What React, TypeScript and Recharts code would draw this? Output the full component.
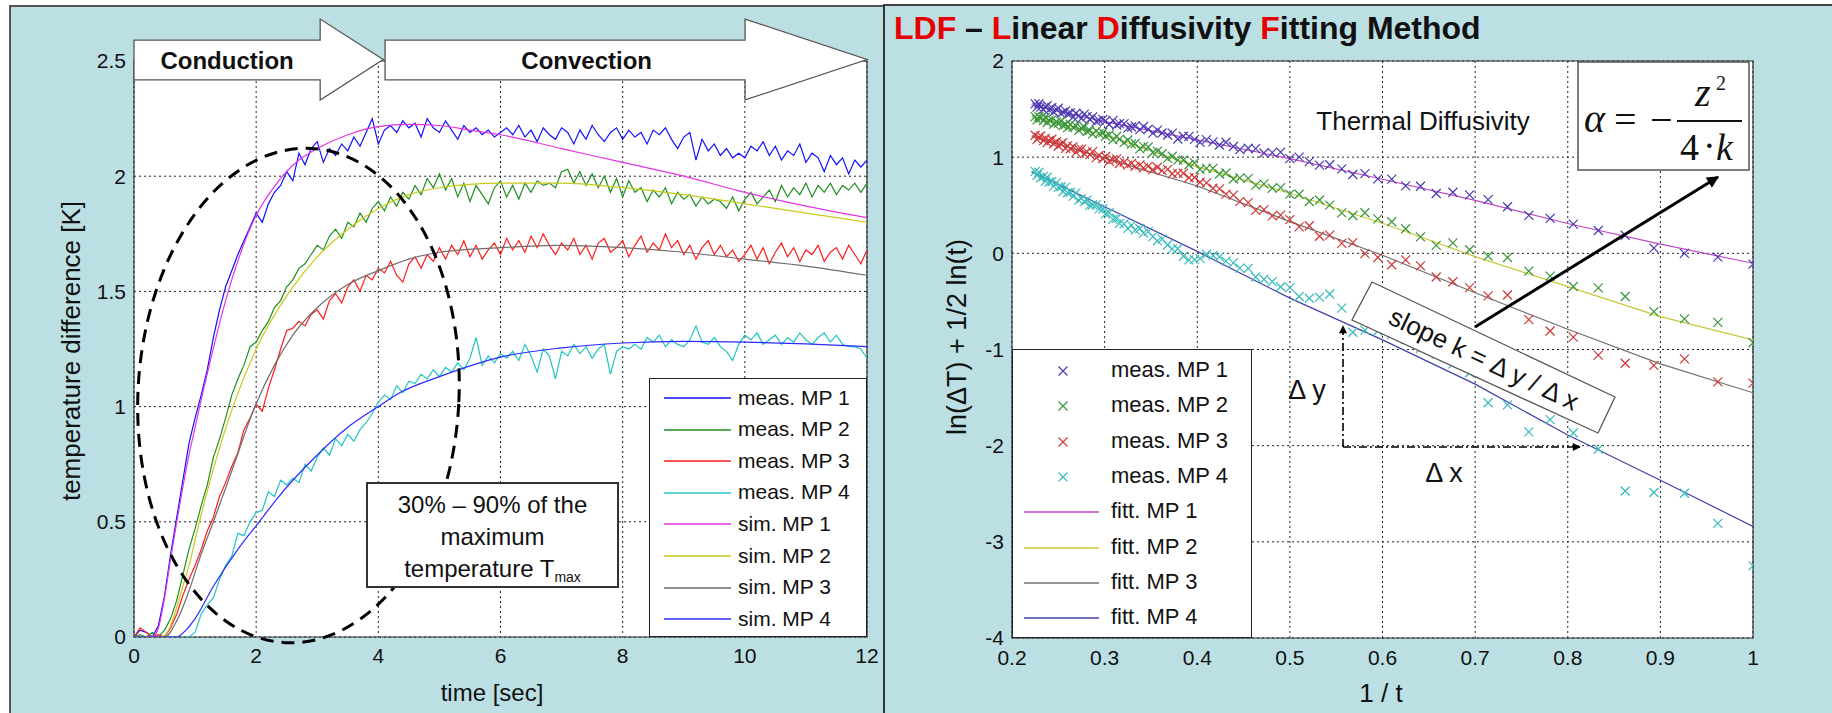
import React from 'react';
import {
  LineChart, ComposedChart, Line, Scatter, XAxis, YAxis, CartesianGrid, ReferenceArea, Legend,
} from 'recharts';

const TEAL = '#bbdfe3';
const FONT = '"Liberation Sans", Arial, Helvetica, sans-serif';
const SERIF = '"Liberation Serif", "Times New Roman", serif';

// ---------------- Left chart: temperature difference vs time ----------------
const X_TICKS_L = [0, 2, 4, 6, 8, 10, 12];
const Y_TICKS_L = [0, 0.5, 1, 1.5, 2, 2.5];

const TIME = [0,0.1,0.2,0.3,0.4,0.5,0.6,0.7,0.8,0.9,1,1.1,1.2,1.3,1.4,1.5,1.6,1.7,1.8,1.9,2,2.1,2.2,2.3,2.4,2.5,2.6,2.7,2.8,2.9,3,3.1,3.2,3.3,3.4,3.5,3.6,3.7,3.8,3.9,4,4.1,4.2,4.3,4.4,4.5,4.6,4.7,4.8,4.9,5,5.1,5.2,5.3,5.4,5.5,5.6,5.7,5.8,5.9,6,6.1,6.2,6.3,6.4,6.5,6.6,6.7,6.8,6.9,7,7.1,7.2,7.3,7.4,7.5,7.6,7.7,7.8,7.9,8,8.1,8.2,8.3,8.4,8.5,8.6,8.7,8.8,8.9,9,9.1,9.2,9.3,9.4,9.5,9.6,9.7,9.8,9.9,10,10.1,10.2,10.3,10.4,10.5,10.6,10.7,10.8,10.9,11,11.1,11.2,11.3,11.4,11.5,11.6,11.7,11.8,11.9,12];

const MEAS_MP1 = [0.00,0.03,0.02,0.00,0.05,0.18,0.36,0.52,0.68,0.84,
0.95,1.05,1.16,1.30,1.42,1.52,1.59,1.66,1.72,1.78,
1.84,1.80,1.88,1.93,1.96,2.02,1.98,2.10,2.05,2.12,
2.15,2.06,2.12,2.09,2.14,2.11,2.17,2.13,2.19,2.25,
2.14,2.20,2.22,2.19,2.24,2.21,2.23,2.17,2.25,2.21,
2.19,2.24,2.20,2.16,2.22,2.19,2.21,2.18,2.20,2.17,
2.19,2.21,2.18,2.22,2.17,2.20,2.15,2.21,2.18,2.16,
2.21,2.19,2.14,2.20,2.16,2.22,2.18,2.15,2.19,2.21,
2.16,2.20,2.17,2.19,2.14,2.20,2.18,2.21,2.16,2.12,
2.17,2.19,2.07,2.16,2.11,2.14,2.09,2.12,2.08,2.10,
2.08,2.13,2.11,2.15,2.09,2.13,2.07,2.11,2.09,2.14,
2.06,2.10,2.08,2.02,2.09,2.05,2.08,2.01,2.07,2.04,
2.07];

const MEAS_MP2 = [0.00,0.01,0.00,0.02,0.00,0.03,0.08,0.16,0.27,0.38,
0.47,0.57,0.66,0.78,0.86,0.95,1.05,1.12,1.18,1.26,
1.28,1.33,1.37,1.43,1.46,1.52,1.55,1.60,1.62,1.66,
1.70,1.68,1.74,1.77,1.73,1.80,1.78,1.84,1.80,1.86,
1.89,1.85,1.91,1.87,1.93,1.90,1.96,1.92,1.99,1.95,
2.01,1.94,1.99,1.91,1.97,1.89,1.96,1.92,1.88,1.95,
1.98,1.91,1.96,1.90,1.97,1.93,1.98,1.96,1.97,1.95,
2.02,2.03,1.97,2.02,1.96,2.01,1.95,2.00,1.93,1.99,
1.91,1.98,1.93,1.95,1.89,1.94,1.91,1.95,1.88,1.93,
1.90,1.92,1.87,1.91,1.88,1.90,1.89,1.86,1.91,1.85,
1.90,1.93,1.88,1.91,1.94,1.89,1.96,1.91,1.95,1.92,
1.97,1.91,1.96,1.93,1.97,1.92,1.96,1.94,1.97,1.93,
1.97];

const MEAS_MP3 = [0.00,0.04,0.02,0.00,0.01,0.00,0.04,0.10,0.18,0.25,
0.31,0.38,0.46,0.52,0.61,0.67,0.74,0.80,0.90,0.95,
1.01,0.98,1.08,1.16,1.25,1.33,1.34,1.37,1.35,1.40,
1.42,1.38,1.46,1.49,1.45,1.52,1.55,1.50,1.57,1.55,
1.60,1.58,1.63,1.57,1.54,1.62,1.65,1.60,1.66,1.63,
1.69,1.64,1.70,1.66,1.72,1.65,1.70,1.64,1.68,1.71,
1.66,1.73,1.68,1.72,1.67,1.74,1.69,1.75,1.70,1.66,
1.71,1.68,1.73,1.66,1.70,1.64,1.71,1.73,1.67,1.69,
1.72,1.65,1.70,1.74,1.67,1.71,1.68,1.75,1.69,1.72,
1.66,1.70,1.64,1.69,1.72,1.66,1.70,1.65,1.68,1.63,
1.66,1.70,1.64,1.69,1.62,1.67,1.71,1.65,1.69,1.63,
1.68,1.66,1.70,1.63,1.67,1.69,1.64,1.70,1.66,1.62,
1.68];

const MEAS_MP4 = [0,0,0,0,0,0,0,0,0,0,
0.02,0.10,0.14,0.17,0.25,0.31,0.35,0.45,0.44,0.50,
0.54,0.55,0.63,0.61,0.68,0.66,0.69,0.67,0.75,0.72,
0.78,0.82,0.79,0.86,0.83,0.88,0.85,0.90,0.93,0.97,
1.02,1.05,1.03,1.09,1.06,1.11,1.10,1.14,1.12,1.16,
1.13,1.17,1.15,1.19,1.16,1.21,1.30,1.18,1.22,1.19,
1.23,1.21,1.24,1.20,1.27,1.22,1.15,1.25,1.22,1.12,
1.24,1.22,1.27,1.23,1.26,1.21,1.25,1.27,1.14,1.24,
1.26,1.25,1.27,1.25,1.30,1.28,1.31,1.26,1.29,1.27,
1.26,1.29,1.35,1.28,1.27,1.30,1.26,1.24,1.20,1.27,
1.31,1.29,1.32,1.27,1.29,1.31,1.27,1.30,1.28,1.32,
1.29,1.27,1.30,1.32,1.28,1.31,1.27,1.26,1.26,1.25,
1.21];

const SIM_MP1_T = [0,0.3,0.4,0.5,0.6,0.7,0.8,0.9,1.0,1.1,1.25,1.5,1.75,2.0,2.34,2.7,3.0,3.5,4.0,4.5,5.0,5.5,6.0,7.0,8.0,9.0,10.0,11.0,12.0];
const SIM_MP1_V = [0,0,0.04,0.17,0.34,0.5,0.65,0.79,0.91,1.03,1.2,1.46,1.67,1.83,1.97,2.07,2.12,2.18,2.215,2.225,2.22,2.2,2.18,2.12,2.06,2.0,1.93,1.87,1.82];
const SIM_MP2_T = [0,0.45,0.6,0.7,0.8,0.9,1.07,1.3,1.62,2.0,2.55,3.0,3.5,4.0,4.5,5.0,6.0,7.0,8.0,9.0,10.0,11.0,12.0];
const SIM_MP2_V = [0,0,0.05,0.13,0.22,0.31,0.5,0.73,1.0,1.25,1.5,1.65,1.77,1.86,1.92,1.95,1.97,1.97,1.95,1.92,1.88,1.84,1.80];
const SIM_MP3_T = [0,0.5,0.7,0.9,1.1,1.3,1.6,1.98,2.3,2.6,3.0,3.5,4.0,4.5,5.0,6.0,7.0,8.0,9.0,10.0,11.0,12.0];
const SIM_MP3_V = [0,0,0.07,0.2,0.36,0.5,0.72,1.0,1.18,1.31,1.43,1.53,1.59,1.64,1.67,1.69,1.70,1.69,1.67,1.64,1.61,1.57];
const SIM_MP4_T = [0,0.7,0.85,1.0,1.3,1.7,2.05,2.34,3.0,3.5,4.0,4.35,5.0,6.0,7.0,8.0,9.0,10.0,11.0,12.0];
const SIM_MP4_V = [0,0,0.03,0.08,0.22,0.38,0.5,0.6,0.79,0.91,1.0,1.06,1.13,1.215,1.255,1.276,1.283,1.28,1.272,1.26];

const LEFT_SERIES = [
  { name: 'meas. MP 1', color: '#1010ff', t: TIME, v: MEAS_MP1, smooth: false },
  { name: 'meas. MP 2', color: '#1f8f1f', t: TIME, v: MEAS_MP2, smooth: false },
  { name: 'meas. MP 3', color: '#ff1c1c', t: TIME, v: MEAS_MP3, smooth: false },
  { name: 'meas. MP 4', color: '#22c4c4', t: TIME, v: MEAS_MP4, smooth: false },
  { name: 'sim. MP 1', color: '#e533e5', t: SIM_MP1_T, v: SIM_MP1_V, smooth: true },
  { name: 'sim. MP 2', color: '#c9c91a', t: SIM_MP2_T, v: SIM_MP2_V, smooth: true },
  { name: 'sim. MP 3', color: '#6e6e6e', t: SIM_MP3_T, v: SIM_MP3_V, smooth: true },
  { name: 'sim. MP 4', color: '#2a2aff', t: SIM_MP4_T, v: SIM_MP4_V, smooth: true },
];

// ---------------- Right chart: LDF fitting ----------------
const X_TICKS_R = [0.2, 0.3, 0.4, 0.5, 0.6, 0.7, 0.8, 0.9, 1];
const Y_TICKS_R = [-4, -3, -2, -1, 0, 1, 2];

const INV_T = [0.225,0.227,0.229,0.231,0.234,0.236,0.238,0.240,0.243,0.245,0.248,0.250,0.253,0.255,0.258,0.260,0.263,0.266,0.269,0.272,0.275,0.278,0.281,0.284,0.287,0.291,0.294,0.298,0.301,0.305,0.309,0.313,0.316,0.321,0.325,0.329,0.333,0.338,0.342,0.347,0.352,0.357,0.362,0.368,0.373,0.379,0.385,0.391,0.397,0.403,0.410,0.417,0.424,0.431,0.439,0.446,0.455,0.463,0.472,0.481,0.490,0.500,0.510,0.521,0.532,0.543,0.556,0.568,0.581,0.595,0.610,0.625,0.641,0.658,0.676,0.694,0.714,0.735,0.758,0.781,0.806,0.833,0.862,0.893,0.926,0.962,1.000];

const LN_MP1 = [1.554,1.520,1.555,1.521,1.494,1.520,1.536,1.491,1.515,1.470,
1.494,1.509,1.453,1.468,1.481,1.447,1.460,1.414,1.457,1.431,
1.404,1.447,1.421,1.394,1.418,1.369,1.382,1.393,1.377,1.340,
1.382,1.334,1.349,1.349,1.302,1.314,1.326,1.287,1.319,1.290,
1.250,1.281,1.251,1.230,1.250,1.189,1.218,1.216,1.185,1.154,
1.182,1.159,1.127,1.155,1.111,1.079,1.093,1.089,1.043,1.048,
1.052,0.985,1.001,0.954,0.918,0.921,0.879,0.820,0.829,0.775,
0.772,0.701,0.698,0.622,0.635,0.608,0.559,0.484,0.394,0.364,
0.303,0.237,0.188,0.054,0.000,-0.040,-0.113];

const LN_MP2 = [1.421,1.387,1.422,1.407,1.380,1.415,1.360,1.385,1.388,1.343,
1.366,1.351,1.374,1.329,1.342,1.307,1.340,1.313,1.326,1.278,
1.301,1.314,1.267,1.279,1.242,1.273,1.245,1.256,1.218,1.235,
1.181,1.218,1.188,1.152,1.178,1.135,1.142,1.086,1.112,1.106,
1.049,1.063,1.036,0.987,1.010,0.970,0.971,0.921,0.941,0.873,
0.883,0.884,0.825,0.835,0.773,0.784,0.779,0.707,0.722,0.677,
0.683,0.615,0.614,0.539,0.555,0.501,0.420,0.393,0.422,0.359,
0.328,0.256,0.171,0.082,0.109,0.037,-0.028,-0.043,-0.185,-0.237,
-0.345,-0.359,-0.449,-0.606,-0.681,-0.718,-0.930];

const LN_MP3 = [1.228,1.183,1.207,1.221,1.172,1.196,1.151,1.175,1.186,1.140,
1.161,1.116,1.137,1.151,1.092,1.117,1.088,1.109,1.050,1.082,
1.083,1.034,1.055,1.027,1.058,0.996,1.018,0.986,1.007,0.956,
0.974,0.982,0.934,0.949,0.918,0.936,0.904,0.920,0.888,0.904,
0.869,0.895,0.860,0.873,0.828,0.831,0.833,0.786,0.789,0.739,
0.733,0.677,0.671,0.615,0.606,0.540,0.527,0.447,0.454,0.390,
0.397,0.350,0.275,0.287,0.178,0.190,0.104,0.112,-0.003,-0.043,
-0.119,-0.068,-0.130,-0.246,-0.296,-0.357,-0.443,-0.433,-0.690,-0.808,
-0.872,-1.059,-1.143,-1.165,-1.098,-1.336,-1.350];

const LN_MP4 = [0.852,0.812,0.843,0.784,0.800,0.751,0.791,0.742,0.748,0.699,
0.735,0.686,0.692,0.643,0.689,0.630,0.636,0.592,0.628,0.554,
0.571,0.537,0.553,0.499,0.505,0.507,0.463,0.464,0.410,0.422,
0.353,0.365,0.311,0.307,0.259,0.290,0.242,0.258,0.210,0.226,
0.173,0.130,0.147,0.089,0.046,0.048,-0.030,-0.068,-0.066,-0.055,
-0.009,-0.023,-0.037,-0.081,-0.100,-0.154,-0.157,-0.246,-0.270,-0.294,
-0.347,-0.356,-0.449,-0.467,-0.455,-0.423,-0.569,-0.821,-0.798,-0.808,
-0.846,-0.895,-0.989,-1.047,-1.150,-1.242,-1.554,-1.576,-1.857,-1.729,
-1.868,-2.035,-2.471,-2.487,-2.495,-2.808,-3.250];

const FIT_X = [0.221, 0.3, 0.4, 0.5, 0.6, 0.7, 0.8, 0.9, 1.0];
const FIT_MP1 = [1.543, 1.37, 1.18, 0.985, 0.77, 0.55, 0.31, 0.095, -0.103];
const FIT_MP2 = [1.421, 1.231, 0.901, 0.625, 0.313, -0.034, -0.346, -0.658, -0.90];
const FIT_MP3 = [1.22, 0.99, 0.70, 0.33, -0.02, -0.41, -0.79, -1.15, -1.45];
const FIT_MP4 = [0.85, 0.485, 0.02, -0.466, -0.90, -1.36, -1.89, -2.36, -2.84];

const MEAS_R = [
  { name: 'meas. MP 1', color: '#4a3cb4', v: LN_MP1 },
  { name: 'meas. MP 2', color: '#3a963a', v: LN_MP2 },
  { name: 'meas. MP 3', color: '#d03838', v: LN_MP3 },
  { name: 'meas. MP 4', color: '#38bcbc', v: LN_MP4 },
];
const FIT_R = [
  { name: 'fitt. MP 1', color: '#c448c4', v: FIT_MP1 },
  { name: 'fitt. MP 2', color: '#c8c83a', v: FIT_MP2 },
  { name: 'fitt. MP 3', color: '#707070', v: FIT_MP3 },
  { name: 'fitt. MP 4', color: '#4040a8', v: FIT_MP4 },
];

// ---------------- helpers ----------------
const xMark = (color: string) => (props: any) => {
  const { cx, cy } = props;
  if (cx == null || cy == null) return <g />;
  const r = 4.5;
  return (
    <path d={`M${cx - r},${cy - r}L${cx + r},${cy + r}M${cx - r},${cy + r}L${cx + r},${cy - r}`}
      stroke={color} strokeWidth={1.2} fill="none" />
  );
};

const blockArrow = (label: string, labelFrac: number) => (props: any) => {
  const { x, y, width, height } = props;
  if (x == null) return <g />;
  const hs = x + width * 0.747;
  const st = y + height * 0.26;
  const sb = y + height * 0.753;
  const mid = y + height / 2;
  const pts = `${x},${st} ${hs},${st} ${hs},${y} ${x + width},${mid} ${hs},${y + height} ${hs},${sb} ${x},${sb}`;
  return (
    <g>
      <polygon points={pts} fill="#fff" stroke="#555" strokeWidth={1.3} />
      <text x={x + (hs - x) * labelFrac} y={mid + 1} textAnchor="middle" dominantBaseline="central"
        fontFamily={FONT} fontWeight="bold" fontSize={24} fill="#111">{label}</text>
    </g>
  );
};

const ellipseShape = (props: any) => {
  const { x, y, width, height } = props;
  if (x == null) return <g />;
  const cx = x + width / 2;
  const cy = y + height / 2;
  return (
    <ellipse cx={cx} cy={cy} rx={width / 2} ry={height / 2} transform={`rotate(3 ${cx} ${cy})`}
      fill="none" stroke="#000" strokeWidth={3} strokeDasharray="13 8" />
  );
};

type LegendItem = { name: string; color: string; kind: 'line' | 'x' };

const LegendBox = ({ items, w, h, top0, gap, lx1, lx2, mx, tx, fs }: any) => (
  <div style={{ position: 'relative', width: w, height: h, boxSizing: 'border-box', background: '#fff',
    border: '1px solid #222', fontFamily: FONT }}>
    {items.map((it: LegendItem, i: number) => {
      const cy = top0 + i * gap;
      return (
        <div key={it.name}>
          <svg style={{ position: 'absolute', left: 0, top: cy - 10 }} width={tx} height={20}>
            {it.kind === 'line'
              ? <line x1={lx1} x2={lx2} y1={10} y2={10} stroke={it.color} strokeWidth={1.5} />
              : <path d={`M${mx - 4.5},5.5L${mx + 4.5},14.5M${mx - 4.5},14.5L${mx + 4.5},5.5`} stroke={it.color} strokeWidth={1.2} fill="none" />}
          </svg>
          <span style={{ position: 'absolute', left: tx, top: cy - fs / 2 - 1, height: fs, fontSize: fs,
            lineHeight: `${fs}px`, color: '#111', whiteSpace: 'nowrap' }}>{it.name}</span>
        </div>
      );
    })}
  </div>
);

const LEFT_LEGEND: LegendItem[] = LEFT_SERIES.map((s) => ({ name: s.name, color: s.color, kind: 'line' }));
const RIGHT_LEGEND: LegendItem[] = [
  ...MEAS_R.map((s) => ({ name: s.name, color: s.color, kind: 'x' as const })),
  ...FIT_R.map((s) => ({ name: s.name, color: s.color, kind: 'line' as const })),
];

const tickStyle = { fill: '#111', fontSize: 21, fontFamily: FONT };

export default function App() {
  return (
    <div style={{ position: 'fixed', left: 0, top: 0, width: 1832, height: 713, background: '#fff', overflow: 'hidden', fontFamily: FONT }}>
      <div style={{ position: 'absolute', left: 9, top: 5, width: 874, height: 708, background: TEAL,
        borderLeft: '2px solid #555', borderTop: '2px solid #555', boxSizing: 'border-box' }} />
      <div style={{ position: 'absolute', left: 883, top: 4, width: 949, height: 709, background: TEAL,
        borderLeft: '2px solid #333', borderTop: '2px solid #444', boxSizing: 'border-box' }} />

      {/* Left chart */}
      <div style={{ position: 'absolute', left: 0, top: 0 }}>
        <LineChart width={883} height={713} margin={{ top: 61, right: 16, bottom: 36, left: 74 }}>
          <CartesianGrid fill="#fff" stroke="#222" strokeDasharray="2 3" strokeWidth={1} />
          <XAxis dataKey="t" type="number" domain={[0, 12]} ticks={X_TICKS_L} height={40} tickMargin={5}
            axisLine={false} tickLine={false} tick={tickStyle} allowDataOverflow />
          <YAxis type="number" domain={[0, 2.5]} ticks={Y_TICKS_L} width={60}
            axisLine={false} tickLine={false} tick={tickStyle} allowDataOverflow />
          <ReferenceArea x1={0} x2={12} y1={0} y2={2.5} fill="none" fillOpacity={0} stroke="#333" strokeWidth={1.2} ifOverflow="visible" />
          {LEFT_SERIES.map((s) => (
            <Line key={s.name} name={s.name} data={s.t.map((t, i) => ({ t, v: s.v[i] }))} dataKey="v"
              type={s.smooth ? 'monotone' : 'linear'} stroke={s.color} strokeWidth={1.2}
              dot={false} activeDot={false} isAnimationActive={false} />
          ))}
          <ReferenceArea x1={0.065} x2={5.32} y1={-0.026} y2={2.122} ifOverflow="visible" shape={ellipseShape} zIndex={2500} />
          <ReferenceArea x1={0} x2={4.08} y1={2.331} y2={2.682} ifOverflow="visible" shape={blockArrow('Conduction', 0.5)} zIndex={2600} />
          <ReferenceArea x1={4.11} x2={12} y1={2.331} y2={2.682} ifOverflow="visible" shape={blockArrow('Convection', 0.56)} zIndex={2600} />
          <Legend layout="vertical" align="center" verticalAlign="middle"
            wrapperStyle={{ left: 649, top: 378, width: 218, height: 259 }}
            content={() => <LegendBox items={LEFT_LEGEND} w={218} h={259} top0={19} gap={31.6} lx1={14} lx2={81} mx={47} tx={88} fs={21} />} />
        </LineChart>
      </div>

      {/* Right chart */}
      <div style={{ position: 'absolute', left: 883, top: 0 }}>
        <ComposedChart width={949} height={713} margin={{ top: 61, right: 79, bottom: 35, left: 69 }}>
          <CartesianGrid fill="#fff" stroke="#222" strokeDasharray="2 3" strokeWidth={1} />
          <XAxis dataKey="x" type="number" domain={[0.2, 1]} ticks={X_TICKS_R} height={40} tickMargin={6}
            axisLine={false} tickLine={false} tick={tickStyle} allowDataOverflow />
          <YAxis dataKey="y" type="number" domain={[-4, 2]} ticks={Y_TICKS_R} width={60}
            axisLine={false} tickLine={false} tick={tickStyle} allowDataOverflow />
          <ReferenceArea x1={0.2} x2={1} y1={-4} y2={2} fill="none" fillOpacity={0} stroke="#333" strokeWidth={1.2} ifOverflow="visible" />
          {MEAS_R.map((s) => (
            <Scatter key={s.name} name={s.name} data={INV_T.map((x, i) => ({ x, y: s.v[i] }))}
              shape={xMark(s.color)} isAnimationActive={false} />
          ))}
          {FIT_R.map((s) => (
            <Line key={s.name} name={s.name} data={FIT_X.map((x, i) => ({ x, y: s.v[i] }))} dataKey="y"
              type="linear" stroke={s.color} strokeWidth={1.2} dot={false} activeDot={false} isAnimationActive={false} />
          ))}
          <Legend layout="vertical" align="center" verticalAlign="middle"
            wrapperStyle={{ left: 129, top: 349, width: 240, height: 289 }}
            content={() => <LegendBox items={RIGHT_LEGEND} w={240} h={289} top0={21} gap={35.3} lx1={11} lx2={86} mx={50} tx={98} fs={22} />} />
        </ComposedChart>
      </div>

      {/* Left annotation box */}
      <div style={{ position: 'absolute', left: 366, top: 482, width: 253, height: 106, boxSizing: 'border-box',
        border: '2px solid #333', background: '#fff', textAlign: 'center', fontSize: 24, lineHeight: '32px',
        paddingTop: 5, color: '#111', fontFamily: FONT }}>
        <div>30% – 90% of the</div>
        <div>maximum</div>
        <div>temperature T<sub style={{ fontSize: 14, verticalAlign: -5 }}>max</sub></div>
      </div>

      {/* Overlay texts and annotations */}
      <svg width={1832} height={713} style={{ position: 'absolute', left: 0, top: 0, pointerEvents: 'none' }}>
        <defs>
          <marker id="ahBig" viewBox="0 0 10 10" refX={9} refY={5} markerUnits="userSpaceOnUse" markerWidth={16} markerHeight={12} orient="auto">
            <path d="M0,0 L10,5 L0,10 z" fill="#000" />
          </marker>
          <marker id="ahSmall" viewBox="0 0 10 10" refX={9} refY={5} markerUnits="userSpaceOnUse" markerWidth={11} markerHeight={8} orient="auto">
            <path d="M0,0 L10,5 L0,10 z" fill="#000" />
          </marker>
        </defs>
        {/* left panel labels */}
        <text x={71} y={351} transform="rotate(-90 71 351)" textAnchor="middle" dominantBaseline="central"
          fontFamily={FONT} fontSize={26} fill="#111">temperature difference [K]</text>
        <text x={492} y={692} textAnchor="middle" dominantBaseline="central" fontFamily={FONT} fontSize={24} fill="#111">time [sec]</text>

        {/* right panel title */}
        <text x={894} y={39} fontFamily={FONT} fontWeight="bold" fontSize={32} fill="#111">
          <tspan fill="#e60000">LDF</tspan> – <tspan fill="#e60000">L</tspan>inear <tspan fill="#e60000">D</tspan>iffusivity <tspan fill="#e60000">F</tspan>itting Method
        </text>
        <text x={957} y={337} transform="rotate(-90 957 337)" textAnchor="middle" dominantBaseline="central"
          fontFamily={FONT} fontSize={27} fill="#111">ln(ΔT) + 1/2 ln(t)</text>
        <text x={1381} y={693} textAnchor="middle" dominantBaseline="central" fontFamily={FONT} fontSize={26} fill="#111">1 / t</text>
        <text x={1423} y={130} textAnchor="middle" fontFamily={FONT} fontSize={26} fill="#111">Thermal Diffusivity</text>

        {/* formula box */}
        <rect x={1578} y={62} width={171} height={108} fill="#fff" stroke="#555" strokeWidth={1.5} />
        <text x={1584} y={132} fontFamily={SERIF} fontStyle="italic" fontSize={40} fill="#111">α</text>
        <text x={1614} y={133} fontFamily={SERIF} fontSize={40} fill="#111">=</text>
        <text x={1650} y={133} fontFamily={SERIF} fontSize={40} fill="#111">−</text>
        <line x1={1677} x2={1742} y1={121} y2={121} stroke="#111" strokeWidth={2} />
        <text x={1695} y={106} fontFamily={SERIF} fontStyle="italic" fontSize={40} fill="#111">z</text>
        <text x={1716} y={90} fontFamily={SERIF} fontSize={20} fill="#111">2</text>
        <text x={1680} y={160} fontFamily={SERIF} fontSize={38} fill="#111">4</text>
        <text x={1703} y={158} fontFamily={SERIF} fontSize={38} fill="#111">·</text>
        <text x={1716} y={160} fontFamily={SERIF} fontStyle="italic" fontSize={38} fill="#111">k</text>

        {/* arrow to formula */}
        <line x1={1475} y1={327} x2={1718} y2={177} stroke="#000" strokeWidth={3} markerEnd="url(#ahBig)" />

        {/* slope box */}
        <polygon points="1372,282 1615,397 1598,433 1352,320" fill="#fff" stroke="#555" strokeWidth={1.3} />
        <text x={1484} y={359} transform="rotate(25.3 1484 359)" textAnchor="middle" dominantBaseline="central"
          fontFamily={FONT} fontSize={26} fill="#111">slope k = Δ y / Δ x</text>

        {/* delta arrows */}
        <line x1={1343} y1={447} x2={1343} y2={326} stroke="#000" strokeWidth={1.6} strokeDasharray="8 3 2 3" markerEnd="url(#ahSmall)" />
        <line x1={1343} y1={447} x2={1580} y2={447} stroke="#000" strokeWidth={1.6} strokeDasharray="8 3 2 3" markerEnd="url(#ahSmall)" />
        <text x={1307} y={390} textAnchor="middle" dominantBaseline="central" fontFamily={FONT} fontSize={27} fill="#111">Δ y</text>
        <text x={1444} y={473} textAnchor="middle" dominantBaseline="central" fontFamily={FONT} fontSize={27} fill="#111">Δ x</text>
      </svg>
    </div>
  );
}
